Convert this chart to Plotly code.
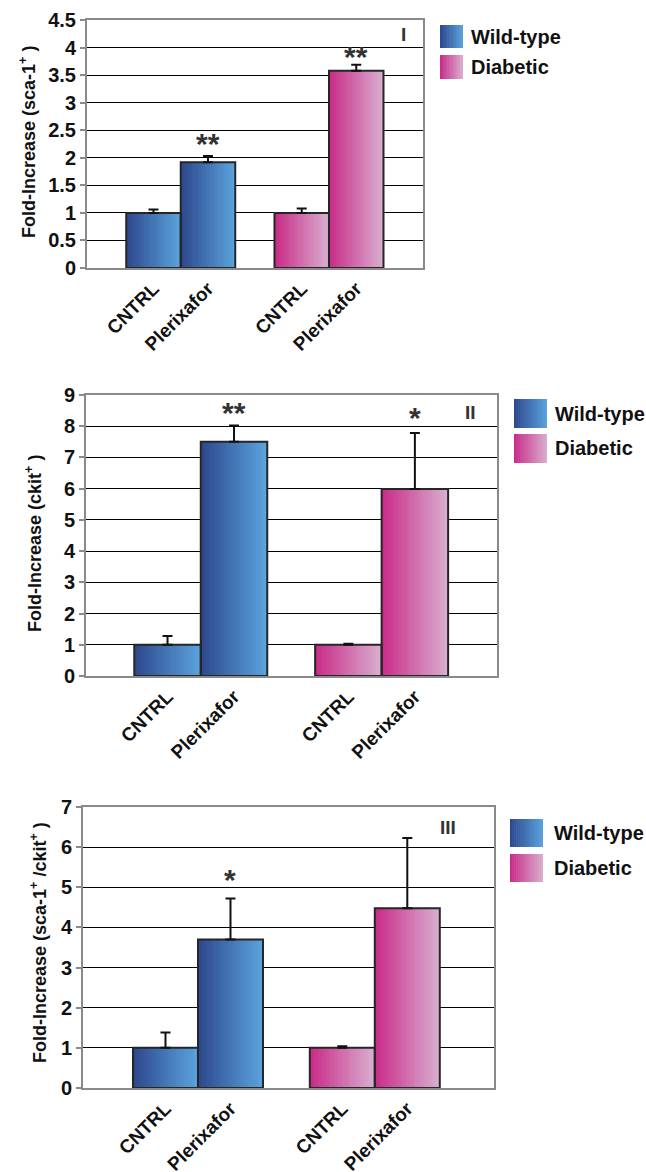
import plotly.graph_objects as go

# ---------------- data ----------------
conditions = ["CNTRL", "Plerixafor"]
groups = ["Wild-type", "Diabetic"]
panel_labels = ["I", "II", "III"]
y_titles = [
    "Fold-Increase (sca-1<sup>+</sup> )",
    "Fold-Increase (ckit<sup>+</sup> )",
    "Fold-Increase (sca-1<sup>+</sup> /ckit<sup>+</sup> )",
]

wt_mean_I = [1.0, 1.92]
wt_err_I = [0.06, 0.11]
dia_mean_I = [1.0, 3.58]
dia_err_I = [0.08, 0.11]

wt_mean_II = [1.0, 7.50]
wt_err_II = [0.28, 0.52]
dia_mean_II = [1.0, 5.99]
dia_err_II = [0.03, 1.79]

wt_mean_III = [1.0, 3.70]
wt_err_III = [0.38, 1.02]
dia_mean_III = [1.0, 4.48]
dia_err_III = [0.04, 1.75]

wt_stars = [["", "**"], ["", "**"], ["", "*"]]
dia_stars = [["", "**"], ["", "*"], ["", ""]]
# star heights (value units)
wt_star_y = [[0, 2.31], [0, 8.52], [0, 5.26]]
dia_star_y = [[0, 3.89], [0, 8.39], [0, 0]]

y_max = [4.5, 9, 7]
y_dtick = [0.5, 1, 1]

# ---------------- style ----------------
W, H = 646, 1172
BLUE = ("#2d478c", "#5ba4de")
PINK = ("#c92a88", "#d8b0cf")
N_SLICE = 24
BAR_W = 1.0
GROUP_GAP = 2.72
FONT = "Liberation Sans, Arial, sans-serif"

# plot areas in pixels: (left, right, top, bottom)
areas = [(87, 423, 20, 268), (86, 497, 395, 676), (83, 494, 807, 1088)]
# x-axis ranges matching reference geometry
x_ranges = [[-1.220, 4.945], [-1.226, 4.955], [-1.269, 5.054]]
title_pos = [(27, 142), (33, 544), (38, 943)]
label_pos = [(403, 35), (470, 412), (448, 827)]
legend_geo = [  # swatch left, right, top1, bottom1, top2, bottom2, text x
    (440, 463, 25, 48, 55, 79, 469),
    (514, 547, 399, 428, 434, 463, 553),
    (510, 543, 819, 847, 854, 882, 552),
]


def px(x):
    return x / W


def py(y):
    return 1 - y / H


def mix(c0, c1, t):
    a = [int(c0[i:i + 2], 16) for i in (1, 3, 5)]
    b = [int(c1[i:i + 2], 16) for i in (1, 3, 5)]
    return "#%02x%02x%02x" % tuple(round(a[j] + (b[j] - a[j]) * t) for j in range(3))


panels = [
    (wt_mean_I, wt_err_I, dia_mean_I, dia_err_I),
    (wt_mean_II, wt_err_II, dia_mean_II, dia_err_II),
    (wt_mean_III, wt_err_III, dia_mean_III, dia_err_III),
]

fig = go.Figure()
annotations = []
shapes = []
layout_axes = {}

for p, (wm, we, dm, de) in enumerate(panels):
    sfx = "" if p == 0 else str(p + 1)
    xa, ya = "x" + sfx, "y" + sfx
    series = [(wm, we, BLUE, wt_stars[p], wt_star_y[p]),
              (dm, de, PINK, dia_stars[p], dia_star_y[p])]
    tickvals, ticktext = [], []
    for g, (means, errs, cols, stars, stary) in enumerate(series):
        xpos = [g * GROUP_GAP + c for c in range(len(conditions))]
        tickvals += xpos
        ticktext += conditions
        for k in range(N_SLICE):
            frac = k / N_SLICE
            fig.add_trace(go.Bar(
                x=xpos, y=means, width=BAR_W * (1 - frac),
                offset=-BAR_W / 2 + BAR_W * frac,
                marker=dict(color=mix(cols[0], cols[1], (k + 0.5) / N_SLICE),
                            line=dict(width=0)),
                xaxis=xa, yaxis=ya, showlegend=False, hoverinfo="skip"))
        fig.add_trace(go.Bar(
            x=xpos, y=means, width=BAR_W, offset=-BAR_W / 2,
            marker=dict(color="rgba(0,0,0,0)", line=dict(color="#262626", width=2)),
            error_y=dict(type="data", array=errs, arrayminus=[0] * len(errs),
                         symmetric=False, color="#111111", thickness=2, width=5),
            xaxis=xa, yaxis=ya, showlegend=False, name=groups[g]))
        for i, s in enumerate(stars):
            if s:
                annotations.append(dict(
                    x=xpos[i], y=stary[i], xref=xa, yref=ya, text=s,
                    showarrow=False, yanchor="middle", yshift=-3,
                    font=dict(family=FONT, size=30, color="#333333", weight="bold")))

    l, r, t, b = areas[p]
    axis_common = dict(showline=True, linecolor="#8a8a8a", linewidth=2, mirror=True,
                       automargin=False)
    layout_axes["xaxis" + sfx] = dict(
        domain=[px(l), px(r)], range=x_ranges[p], anchor=ya,
        tickvals=tickvals, ticktext=ticktext, tickangle=-45, ticks="",
        showgrid=False, zeroline=False,
        tickfont=dict(family=FONT, size=19, color="#111111", weight="bold"),
        **axis_common)
    layout_axes["yaxis" + sfx] = dict(
        domain=[py(b), py(t)], range=[0, y_max[p]], dtick=y_dtick[p], anchor=xa,
        showgrid=True, gridcolor="#000000", gridwidth=1, zeroline=False,
        ticks="outside", ticklen=5, tickcolor="#8a8a8a", tickwidth=2,
        tickfont=dict(family=FONT, size=20, color="#111111", weight="bold"),
        **axis_common)

    # y-axis title
    tx, ty = title_pos[p]
    annotations.append(dict(
        x=px(tx), y=py(ty), xref="paper", yref="paper", text=y_titles[p],
        textangle=-90, showarrow=False, xanchor="center", yanchor="middle",
        font=dict(family=FONT, size=18, color="#111111", weight="bold")))
    # panel label
    lx, lyy = label_pos[p]
    annotations.append(dict(
        x=px(lx), y=py(lyy), xref="paper", yref="paper", text=panel_labels[p],
        showarrow=False, xanchor="center", yanchor="middle",
        font=dict(family=FONT, size=19, color="#333333", weight="bold")))

    # legend (gradient swatches + text)
    sl, sr, t1, b1, t2, b2, txl = legend_geo[p]
    for (st, sb, cols, name) in [(t1, b1, BLUE, groups[0]), (t2, b2, PINK, groups[1])]:
        n = 16
        for k in range(n):
            x0 = sl + (sr - sl) * k / n
            x1 = sl + (sr - sl) * (k + 1) / n + (0.6 if k < n - 1 else 0)
            shapes.append(dict(type="rect", xref="paper", yref="paper",
                               x0=px(x0), x1=px(x1), y0=py(sb), y1=py(st),
                               fillcolor=mix(cols[0], cols[1], (k + 0.5) / n),
                               line=dict(width=0), layer="above"))
        annotations.append(dict(
            x=px(txl), y=py((st + sb) / 2), xref="paper", yref="paper", text=name,
            showarrow=False, xanchor="left", yanchor="middle",
            font=dict(family=FONT, size=20, color="#111111", weight="bold")))

fig.update_layout(
    width=W, height=H, autosize=False,
    margin=dict(l=0, r=0, t=0, b=0),
    paper_bgcolor="white", plot_bgcolor="white",
    barmode="overlay", bargap=0, hovermode=False,
    annotations=annotations, shapes=shapes,
    **layout_axes)

fig.write_html("out.html",
               config={"displayModeBar": False, "staticPlot": True},
               post_script="document.body.style.margin='0px';document.body.style.overflow='hidden';")
